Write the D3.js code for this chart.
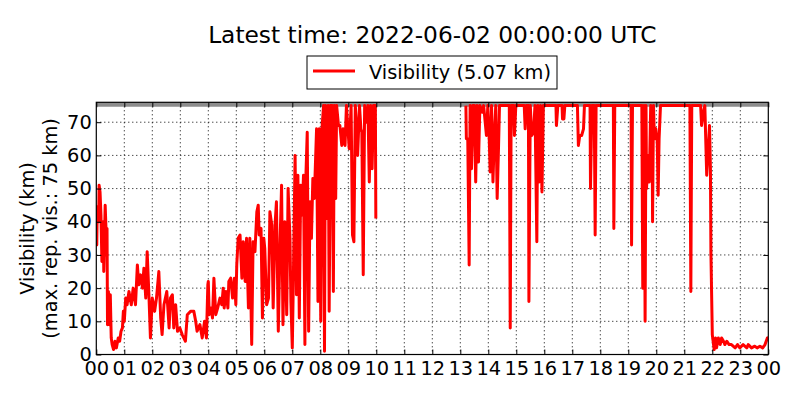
<!DOCTYPE html>
<html>
<head>
<meta charset="utf-8">
<script src="https://d3js.org/d3.v7.min.js"></script>
<style>
  body { margin: 0; background: #fff; }
  svg { font-family: "DejaVu Sans", sans-serif; }
</style>
</head>
<body>
<div id="chart"></div>
<script>
// visibility readings, km (null = no report)
const times = [
  "00:00","00:01","00:02","00:05","00:06","00:08","00:10","00:12","00:13","00:15","00:16","00:19","00:21","00:22","00:23","00:24","00:26","00:28","00:30","00:32","00:34","00:37","00:40","00:43","00:47","00:50","00:53","00:56","00:58",
  "01:00","01:03","01:06","01:09","01:10","01:15","01:19","01:24","01:28","01:31","01:35","01:39","01:42","01:46","01:49","01:53","01:56",
  "02:00","02:05","02:09","02:14","02:18","02:21","02:25","02:31","02:36","02:39","02:43","02:46","02:50","02:54","02:59",
  "03:04","03:11","03:15","03:22","03:29","03:33","03:36","03:42","03:47","03:52","03:56","03:59",
  "04:00","04:02","04:06","04:09","04:12","04:16","04:20","04:25","04:29","04:32","04:34","04:38","04:42","04:44","04:48","04:52","04:56","04:59",
  "05:01","05:04","05:08","05:12","05:15","05:19","05:22","05:26","05:29","05:33","05:36","05:40","05:44","05:47","05:49","05:53","05:56","05:59",
  "06:01","06:05","06:09","06:12","06:16","06:19","06:23","06:26","06:30","06:34","06:37","06:40","06:44","06:48","06:51","06:55","06:57",
  "07:00","07:02","07:06","07:09","07:12","07:15","07:18","07:21","07:24","07:27","07:29","07:32","07:35","07:38","07:41","07:44","07:47","07:49","07:52","07:55","07:58",
  "08:01","08:04","08:07","08:09","08:11","08:14","08:17","08:19","08:22","08:25","08:28","08:30","08:33","08:35","08:39","08:42","08:46","08:49","08:53","08:56",
  "09:02","09:06","09:09","09:12","09:15","09:18","09:20","09:24","09:27","09:29","09:32","09:35","09:39","09:42","09:45","09:48","09:51","09:54","09:58","09:59",
  "10:00",
  "13:12","13:13","13:16","13:19","13:21","13:24","13:27","13:30","13:33","13:36","13:39","13:42","13:47","13:50","13:56","13:59",
  "14:02","14:04","14:07","14:10","14:13","14:16","14:19","14:22","14:24","14:45","14:47","14:49","14:54","14:56","14:59",
  "15:17","15:19","15:22","15:26","15:27","15:30","15:33","15:37","15:40","15:44","15:46","15:49","15:52","15:55","15:58",
  "16:25","16:26","16:29","16:38","16:39","16:42","16:44",
  "17:11","17:13","17:16","17:20","17:24","17:26","17:38","17:39","17:42","17:47","17:49","17:51",
  "18:28","18:29","18:31",
  "19:06","19:07","19:09","19:29","19:31","19:34","19:36","19:38","19:39","19:43","19:45","19:48","19:51","19:52","19:54","19:56","19:59",
  "20:02","20:04","20:06","20:09",
  "21:12","21:14","21:16","21:35","21:37","21:41","21:44","21:48","21:51","21:54","21:56","21:57",
  "22:00","22:04","22:07","22:09","22:13","22:17","22:20","22:24","22:27","22:31","22:36","22:41","22:49","22:54","22:59",
  "23:06","23:14","23:17","23:24","23:31","23:36","23:42","23:48","23:53","23:58","24:00"
];
const visibility = [
  45,33,44,40,51,49,42,28,38,40,25,45,37,30,38,9,19,9,18,5,3,1.5,4,2,5,4,7,8,13,
  10,17,15,18,19,15,20,15,27,21,24,20,26,17,31,17,5,
  17,13,17,25,11,6,15,19,8,17,18,8,15,7,8,
  6,4,12,13,13,10,7,9,5,10,5,21,
  22,12,14,11,23,12,14,17,15,20,14,19,14,22,23,17,23,15,
  27,35,36,23,34,22,35,14,35,3,34,31,43,45,36,38,11,35,
  32,15,17,43,39,14,39,46,7,35,51,9,40,12,50,35,16,
  2,20,60,18,54,11,51,42,54,3,53,67,7,46,35,53,47,55,68,16,68,
  10,69,75,1,75,41,75,13,75,75,19,75,47,75,69,69,63,68,63,75,
  62,75,36,34,75,68,60,75,68,67,24,75,70,75,52,75,56,75,75,41,
  null,
  75,65,65,27,75,56,75,75,52,75,58,75,73,75,66,75,
  65,55,75,52,66,75,47,63,75,75,8,75,75,66,75,
  75,68,75,75,16,75,66,67,75,34,75,52,75,49,75,
  75,69,75,75,71,71,75,
  75,63,66,66,68,75,75,50,75,75,36,75,
  75,38,75,
  75,33,75,75,20,75,10,75,50,60,52,75,68,40,75,65,68,
  64,48,65,75,
  75,19,75,75,69,73,75,54,61,69,56,31,
  6,1.5,5,2,5,3,5,4,3,4,3,3,2,3,2,
  3,2,3,2,2.5,2,2.5,2,3,5,5.07
];
const hourTicks = d3.range(0, 25);
const visTicks = [0, 10, 20, 30, 40, 50, 60, 70];
const maxReported = 75;
const titleText = "Latest time: 2022-06-02 00:00:00 UTC";
const legendText = "Visibility (5.07 km)";
const yLabel = ["Visibility (km)", "(max. rep. vis.: 75 km)"];

const W = 800, H = 400;
const m = { left: 96.3, right: 31.7, top: 102.3, bottom: 45.5 };
const iw = W - m.left - m.right, ih = H - m.top - m.bottom;
const fs = "19.4px";

function toHours(s) {
  const p = s.split(":");
  return +p[0] + +p[1] / 60;
}
const data = times.map((t, i) => ({ h: toHours(t), v: visibility[i] }));

const svg = d3.select("#chart").append("svg")
  .attr("width", W).attr("height", H);

const x = d3.scaleLinear().domain([0, 24]).range([0, iw]);
const y = d3.scaleLinear().domain([0, 76]).range([ih, 0]);

const g = svg.append("g").attr("transform", `translate(${m.left},${m.top})`);

svg.append("defs").append("clipPath").attr("id", "clip")
  .append("rect").attr("width", iw).attr("height", ih);

// dotted grid
g.append("g").selectAll("line").data(hourTicks.slice(1, -1)).enter().append("line")
  .attr("x1", d => x(d)).attr("x2", d => x(d))
  .attr("y1", 0).attr("y2", ih)
  .attr("stroke", "#000").attr("stroke-width", 1).attr("stroke-dasharray", "1,3");
g.append("g").selectAll("line").data(visTicks.slice(1)).enter().append("line")
  .attr("x1", 0).attr("x2", iw)
  .attr("y1", d => y(d)).attr("y2", d => y(d))
  .attr("stroke", "#000").attr("stroke-width", 1).attr("stroke-dasharray", "1,3");

// max reported visibility
g.append("line")
  .attr("clip-path", "url(#clip)")
  .attr("x1", 0).attr("x2", iw)
  .attr("y1", y(maxReported) - 1).attr("y2", y(maxReported) - 1)
  .attr("stroke", "#8c8c8c").attr("stroke-width", 4.5);

const line = d3.line()
  .defined(d => d.v !== null)
  .x(d => x(d.h)).y(d => y(d.v));

g.append("path").datum(data)
  .attr("clip-path", "url(#clip)")
  .attr("fill", "none").attr("stroke", "#ff0000")
  .attr("stroke-width", 3).attr("stroke-linejoin", "round")
  .attr("d", line);

// axes, classic style: ticks inward on all sides
const fmtHour = d => d3.format("02d")(d % 24);
const xb = g.append("g").attr("transform", `translate(0,${ih})`)
  .call(d3.axisBottom(x).tickValues(hourTicks).tickFormat(fmtHour).tickSize(-5).tickPadding(7));
const xt = g.append("g")
  .call(d3.axisTop(x).tickValues(hourTicks).tickFormat("").tickSize(-5));
const yl = g.append("g")
  .call(d3.axisLeft(y).tickValues(visTicks).tickSize(-5).tickPadding(4.5));
const yr = g.append("g").attr("transform", `translate(${iw},0)`)
  .call(d3.axisRight(y).tickValues(visTicks).tickFormat("").tickSize(-5));

[xb, xt, yl, yr].forEach(a => {
  a.select(".domain").remove();
  a.selectAll("line").attr("stroke", "#000");
  a.selectAll("text").attr("font-size", fs).attr("fill", "#000")
    .attr("font-family", "DejaVu Sans");
});

g.append("rect").attr("width", iw).attr("height", ih)
  .attr("fill", "none").attr("stroke", "#000").attr("stroke-width", 1.2);

// title
svg.append("text")
  .attr("x", m.left + iw / 2).attr("y", 43)
  .attr("text-anchor", "middle").attr("font-size", "23.3px")
  .text(titleText);

// legend
const lg = svg.append("g");
lg.append("rect").attr("x", 307).attr("y", 56).attr("width", 250).attr("height", 33)
  .attr("fill", "#fff").attr("stroke", "#000").attr("stroke-width", 1);
lg.append("line").attr("x1", 313).attr("x2", 355).attr("y1", 71).attr("y2", 71)
  .attr("stroke", "#ff0000").attr("stroke-width", 3);
lg.append("text").attr("x", 369).attr("y", 78.5).attr("font-size", fs)
  .text(legendText);

// y label
const yt = svg.append("text")
  .attr("transform", `translate(34,${m.top + ih / 2}) rotate(-90)`)
  .attr("text-anchor", "middle").attr("font-size", fs);
yt.selectAll("tspan").data(yLabel).enter().append("tspan")
  .attr("x", 0).attr("dy", (d, i) => i === 0 ? 0 : "22.7px")
  .text(d => d);
</script>
</body>
</html>
